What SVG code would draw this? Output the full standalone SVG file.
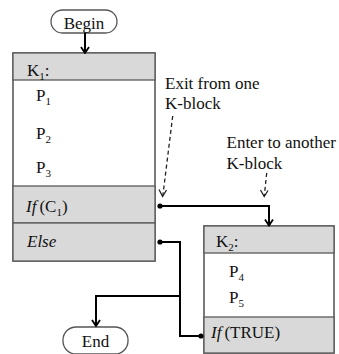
<svg xmlns="http://www.w3.org/2000/svg" width="339" height="354" viewBox="0 0 339 354" font-family="'Liberation Serif', 'Times New Roman', serif">
  <style>
    text { font-family: "Liberation Serif", "Times New Roman", serif; font-size: 17px; fill: #111; }
    .sub { font-size: 11px; }
    .it { font-style: italic; }
    .term { fill: #fff; stroke: #555; stroke-width: 1.3; }
    .box { fill: #fff; stroke: #5a5a5a; stroke-width: 1.6; }
    .band { fill: #d9d9d9; stroke: #5a5a5a; stroke-width: 1.3; }
    .wire { fill: none; stroke: #000; stroke-width: 2; }
    .hint { fill: none; stroke: #222; stroke-width: 1.3; stroke-dasharray: 4 3; }
    .dot { fill: #000; }
  </style>
  <defs>
    <!-- open chevron head, pointing along the path direction -->
    <marker id="arr" viewBox="0 0 10 10" refX="9" refY="5" markerWidth="10" markerHeight="10" markerUnits="userSpaceOnUse" orient="auto">
      <path d="M3,1 L9,5 L3,9" fill="none" stroke="#000" stroke-width="1.8"/>
    </marker>
  </defs>

  <!-- start terminal -->
  <g id="begin">
    <rect class="term" x="51" y="10" width="66" height="23" rx="11.5"/>
    <text x="84" y="29" text-anchor="middle">Begin</text>
  </g>

  <!-- first K-block -->
  <g id="k1">
    <rect class="box" x="13" y="53" width="142" height="208"/>
    <rect class="band" x="13" y="53" width="142" height="27"/>
    <rect class="band" x="13" y="186" width="142" height="37"/>
    <rect class="band" x="13" y="223" width="142" height="38"/>
    <text x="27" y="76">K<tspan class="sub" dy="4">1</tspan><tspan dy="-4">:</tspan></text>
    <text x="36" y="100.5">P<tspan class="sub" dy="4">1</tspan></text>
    <text x="36" y="139">P<tspan class="sub" dy="4">2</tspan></text>
    <text x="36" y="173">P<tspan class="sub" dy="4">3</tspan></text>
    <text x="26" y="211.5"><tspan class="it">If</tspan><tspan dx="3">(C</tspan><tspan class="sub" dy="4">1</tspan><tspan dy="-4">)</tspan></text>
    <text x="27" y="247" class="it">Else</text>
  </g>

  <!-- second K-block -->
  <g id="k2">
    <rect class="box" x="204" y="226" width="130" height="127"/>
    <rect class="band" x="204" y="226" width="130" height="27"/>
    <rect class="band" x="204" y="317" width="130" height="36"/>
    <text x="216" y="247">K<tspan class="sub" dy="4">2</tspan><tspan dy="-4">:</tspan></text>
    <text x="229" y="277">P<tspan class="sub" dy="4">4</tspan></text>
    <text x="229" y="303">P<tspan class="sub" dy="4">5</tspan></text>
    <text x="211" y="338"><tspan class="it">If</tspan><tspan dx="3">(TRUE)</tspan></text>
  </g>

  <!-- end terminal -->
  <g id="end">
    <rect class="term" x="63" y="327" width="65" height="27" rx="13"/>
    <text x="95.5" y="346.5" text-anchor="middle">End</text>
  </g>

  <!-- annotations -->
  <g id="notes">
    <text x="165" y="88.5">Exit from one</text>
    <text x="165" y="108.5">K-block</text>
    <text x="226.5" y="147.5">Enter to another</text>
    <text x="226.5" y="168.5">K-block</text>
  </g>

  <!-- connectors -->
  <g id="connectors">
    <path class="wire" d="M85,33 V53" marker-end="url(#arr)"/>
    <circle class="dot" cx="160" cy="206" r="2.6"/>
    <path class="wire" d="M160,206 H269 V225.5" marker-end="url(#arr)"/>
    <circle class="dot" cx="160" cy="242" r="2.6"/>
    <path class="wire" d="M160,242 H180 V336 H201"/>
    <circle class="dot" cx="201" cy="336" r="2.6"/>
    <path class="wire" d="M180,296 H96 V326" marker-end="url(#arr)"/>
    <path class="hint" d="M172.7,116 L162.8,196"/>
    <path d="M159,189.5 L162.6,196.5 L166.5,190" fill="none" stroke="#222" stroke-width="1.3"/>
    <path class="hint" d="M266.7,173 L264.3,196"/>
    <path d="M260.5,190 L264.2,196.5 L268,190.5" fill="none" stroke="#222" stroke-width="1.3"/>
  </g>
</svg>
